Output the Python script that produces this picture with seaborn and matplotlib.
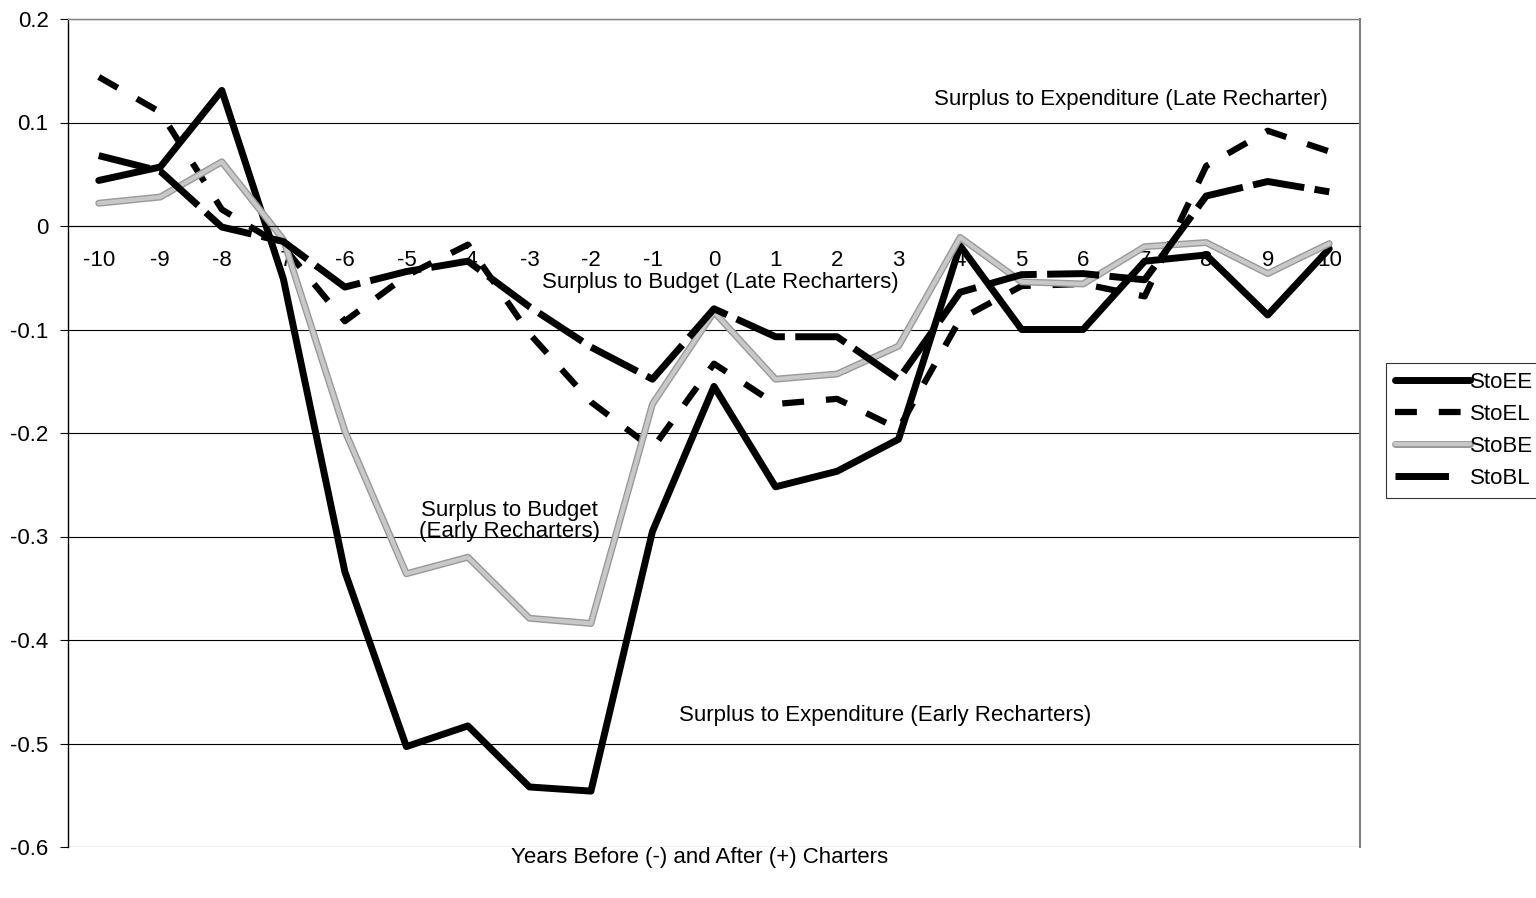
import numpy as np
import pandas as pd
import matplotlib
matplotlib.use("Agg")
import matplotlib.pyplot as plt
import matplotlib.patheffects as pe
import seaborn as sns

# data
years = list(range(-10, 11))
sto_ee = [0.044, 0.057, 0.131, -0.051, -0.334, -0.503, -0.483, -0.542, -0.546, -0.295, -0.155,
          -0.252, -0.237, -0.206, -0.019, -0.100, -0.100, -0.034, -0.028, -0.086, -0.022]
sto_el = [0.144, 0.110, 0.016, -0.020, -0.092, -0.048, -0.018, -0.104, -0.170, -0.215, -0.133,
          -0.172, -0.167, -0.196, -0.090, -0.058, -0.056, -0.068, 0.058, 0.092, 0.072]
sto_be = [0.022, 0.028, 0.062, -0.013, -0.198, -0.336, -0.320, -0.379, -0.384, -0.172, -0.083,
          -0.148, -0.143, -0.116, -0.011, -0.054, -0.056, -0.020, -0.016, -0.046, -0.017]
sto_bl = [0.068, 0.053, -0.001, -0.015, -0.059, -0.044, -0.034, -0.078, -0.117, -0.148, -0.080,
          -0.107, -0.107, -0.148, -0.064, -0.047, -0.046, -0.052, 0.029, 0.043, 0.033]
series_names = ["StoEE", "StoEL", "StoBE", "StoBL"]
y_ticks = [-0.6, -0.5, -0.4, -0.3, -0.2, -0.1, 0.0, 0.1, 0.2]
y_labels = ["-0.6", "-0.5", "-0.4", "-0.3", "-0.2", "-0.1", "0", "0.1", "0.2"]

df = pd.DataFrame({"year": years, "StoEE": sto_ee, "StoEL": sto_el, "StoBE": sto_be, "StoBL": sto_bl})
df_long = df.melt(id_vars="year", var_name="series", value_name="value")

sns.set_style("white")
plt.rcParams["font.family"] = ["Liberation Sans", "DejaVu Sans"]
plt.rcParams["text.color"] = "black"
plt.rcParams["xtick.color"] = "black"
plt.rcParams["ytick.color"] = "black"
plt.rcParams["xtick.labelcolor"] = "black"
plt.rcParams["ytick.labelcolor"] = "black"
FS = 16

fig = plt.figure(figsize=(15.36, 8.98), dpi=100)
ax = fig.add_axes([68 / 1536, 1 - 847 / 898, (1360 - 68) / 1536, (847 - 19) / 898])

styles = {
    "StoEE": dict(color="black", lw=5, ls="-", solid_capstyle="round"),
    "StoEL": dict(color="black", lw=4.5, ls=(0, (3.5, 3.5))),
    "StoBE": dict(color="#c8c8c8", lw=3, ls="-",
                  path_effects=[pe.Stroke(linewidth=5, foreground="#999999"), pe.Normal()]),
    "StoBL": dict(color="black", lw=5, ls=(0, (7.5, 1.5))),
}

for name in series_names:
    sub = df_long[df_long["series"] == name]
    sns.lineplot(data=sub, x="year", y="value", ax=ax, label=name, **styles[name])

# grid and axes
ax.set_ylim(-0.6, 0.2)
ax.set_xlim(-10.5, 10.5)
ax.set_yticks(y_ticks)
ax.set_yticklabels(y_labels)
for yv in y_ticks:
    ax.axhline(yv, color="black", lw=0.8, zorder=0)

ax.spines["bottom"].set_position(("data", 0))
ax.spines["bottom"].set_color("black")
ax.spines["bottom"].set_linewidth(0.8)
ax.spines["left"].set_color("black")
ax.spines["left"].set_linewidth(1.0)
ax.spines["right"].set_color("#808080")
ax.spines["right"].set_linewidth(1.5)
ax.spines["top"].set_color("#808080")
ax.spines["top"].set_linewidth(1.0)

ax.set_xticks(years)
ax.set_xticklabels([str(y) for y in years])
ax.set_xticks(np.arange(-10.5, 10.6, 1), minor=True)
ax.tick_params(axis="x", which="major", length=0, pad=17, labelsize=FS)
ax.tick_params(axis="x", which="minor", length=6, direction="out", color="black", width=0.8)
ax.tick_params(axis="y", which="major", length=6, direction="out", color="black", width=0.8,
               labelsize=FS, left=True, pad=8)

ax.set_xlabel("")
ax.set_ylabel("")
fig.text(700 / 1536, 1 - 857 / 898, "Years Before (-) and After (+) Charters",
         ha="center", va="center", fontsize=FS)

# annotations
ax.text(6.78, 0.122, "Surplus to Expenditure (Late Recharter)", ha="center", va="center", fontsize=FS)
ax.text(0.1, -0.055, "Surplus to Budget (Late Recharters)", ha="center", va="center", fontsize=FS)
ax.text(-3.32, -0.285, "Surplus to Budget\n(Early Recharters)", ha="center", va="center",
        fontsize=FS, linespacing=1.05)
ax.text(2.78, -0.473, "Surplus to Expenditure (Early Recharters)", ha="center", va="center", fontsize=FS)

# legend runs off the right edge like the original
leg = ax.legend(loc="upper left", bbox_to_anchor=(1386 / 1536, 1 - 363 / 898),
                bbox_transform=fig.transFigure, frameon=True, fancybox=False,
                fontsize=FS, handlelength=3.4, handletextpad=0.0, labelspacing=0.5,
                borderpad=0.4, borderaxespad=0)
leg.get_frame().set_edgecolor("black")
leg.get_frame().set_linewidth(0.8)
leg.get_lines()[3].set_linestyle((0, (7.7, 5)))

fig.savefig("out.png", dpi=100)
